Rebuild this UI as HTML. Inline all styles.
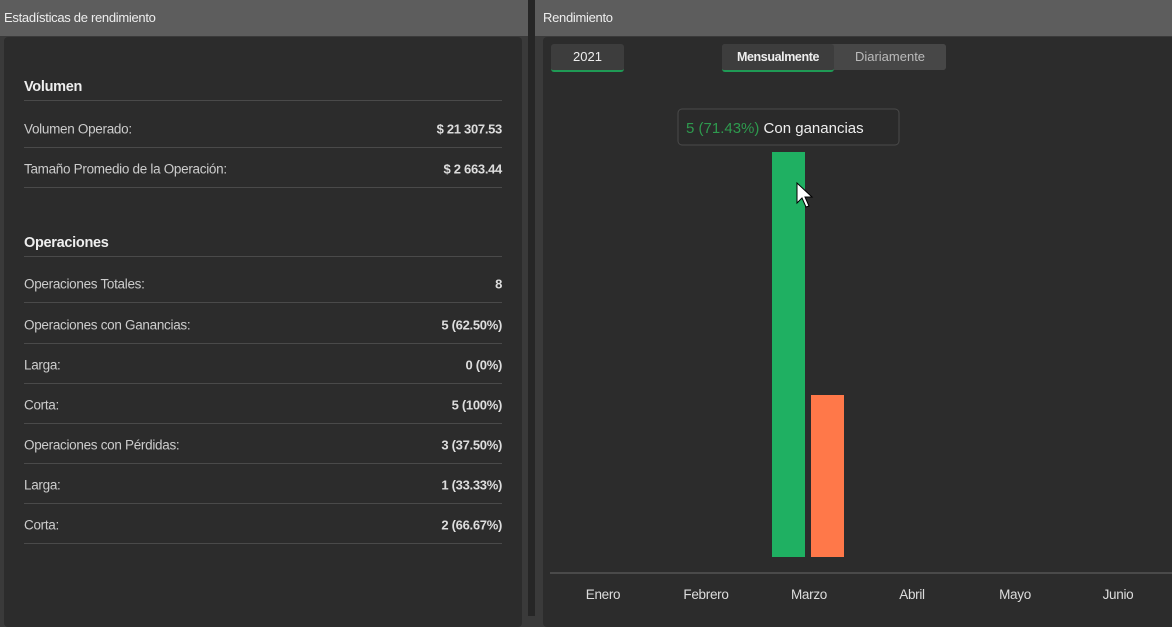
<!DOCTYPE html>
<html><head><meta charset="utf-8"><style>
body{margin:0;width:1172px;height:616px;background:#3a3a3a;font-family:"Liberation Sans",sans-serif;position:relative;overflow:hidden;color:#ddd}
.hdr{position:absolute;top:0;height:36px;background:#5d5d5d;font-size:13px;color:#eee;line-height:36px;padding-left:4px;box-sizing:border-box;letter-spacing:-0.3px}
.card{position:absolute;background:#2c2c2c;border-radius:4px}
.row{position:absolute;left:24px;width:478px;height:40px;border-bottom:1px solid #4a4a4a;font-size:13.5px;color:#ccc;letter-spacing:-0.3px}
.row span{position:absolute;top:55%;transform:translateY(-50%)}
.row .v{right:0;font-weight:bold;color:#ddd;font-size:13px}
.row.h{font-weight:bold;font-size:14.5px;color:#eee}
.row.h span{top:68%}
.btn{position:absolute;top:44px;height:26px;line-height:26px;text-align:center;font-size:13px;background:#3d3d3d;color:#eee;border-radius:3px}
</style></head><body>
<div class="hdr" style="left:0;width:528px">Estadísticas de rendimiento</div>
<div class="hdr" style="left:535px;width:637px;padding-left:8px">Rendimiento</div>
<div style="position:absolute;left:528px;top:0;width:7px;height:616px;background:#262626"></div>
<div class="card" style="left:4px;top:37px;width:518px;height:590px"></div>
<div class="card" style="left:543px;top:37px;width:640px;height:590px"></div>
<div id="rows"></div>
<div class="btn" style="left:551px;width:73px;border-bottom:2px solid #1f9a55">2021</div>
<div class="btn" style="left:722px;width:224px;background:#474747"></div>
<div class="btn" style="left:722px;width:112px;font-weight:bold;font-size:12.5px;border-bottom:2px solid #1f9a55;background:#3d3d3d;letter-spacing:-0.4px">Mensualmente</div>
<div class="btn" style="left:834px;width:112px;background:#474747;color:#bbb">Diariamente</div>
<svg id="chart" style="position:absolute;left:0;top:0" width="1172" height="616"></svg>
<script>
const rows=[["Volumen","",1,100],["Volumen Operado:","$ 21 307.53",0,147],["Tamaño Promedio de la Operación:","$ 2 663.44",0,187],["Operaciones","",1,256],["Operaciones Totales:","8",0,302],["Operaciones con Ganancias:","5 (62.50%)",0,343],["Larga:","0 (0%)",0,383],["Corta:","5 (100%)",0,423],["Operaciones con Pérdidas:","3 (37.50%)",0,463],["Larga:","1 (33.33%)",0,503],["Corta:","2 (66.67%)",0,543]];
const R=document.getElementById('rows');
rows.forEach(r=>{const d=document.createElement('div');d.className='row'+(r[2]?' h':'');d.style.top=(r[3]-40)+'px';


d.innerHTML='<span>'+r[0]+'</span><span class="v">'+r[1]+'</span>';R.appendChild(d);});

const months=["Enero","Febrero","Marzo","Abril","Mayo","Junio"];
const wins=[0,0,5,0,0,0];
const losses=[0,0,2,0,0,0];
const yMax=5;
const svg=document.getElementById('chart');const NS='http://www.w3.org/2000/svg';
const x0=603,step=103,base=557,top0=152;
const y=v=>base-(base-top0)*v/yMax;
const xc=i=>x0+step*i;
function el(t,a){const e=document.createElementNS(NS,t);for(const k in a)e.setAttribute(k,a[k]);svg.appendChild(e);return e;}
const ax=el('line',{x1:550,x2:1172,y1:573,y2:573,stroke:'#4a4a4a','stroke-width':2});


months.forEach((m,i)=>{
 if(wins[i]>0){const b=el('rect',{x:xc(i)-37,y:y(wins[i]),width:33,height:base-y(wins[i]),fill:'#1fb062'});
 
 }
 if(losses[i]>0){const b=el('rect',{x:xc(i)+2,y:y(losses[i]),width:33,height:base-y(losses[i]),fill:'#ff7849'});
 
 }
 const t=el('text',{x:xc(i),y:599,'text-anchor':'middle','font-size':13.5,fill:'#ddd','font-family':'Liberation Sans, sans-serif','letter-spacing':'-0.3'});
 t.textContent=m;
 
 
});
const tip=el('rect',{x:678,y:109,width:221,height:36,rx:4,fill:'#2a2a2a',stroke:'#4a4a4a'});


const tt=el('text',{x:686,y:133,'font-size':15,'font-family':'Liberation Sans, sans-serif',fill:'#eee'});
tt.innerHTML='<tspan fill="#2e9a4e">5 (71.43%)</tspan> Con ganancias';


const cur=el('path',{d:'M797 183 L797 203 L802 198 L806 207 L809 206 L805 197 L812 197 Z',fill:'#fff',stroke:'#000','stroke-width':1});


</script>
</body></html>
